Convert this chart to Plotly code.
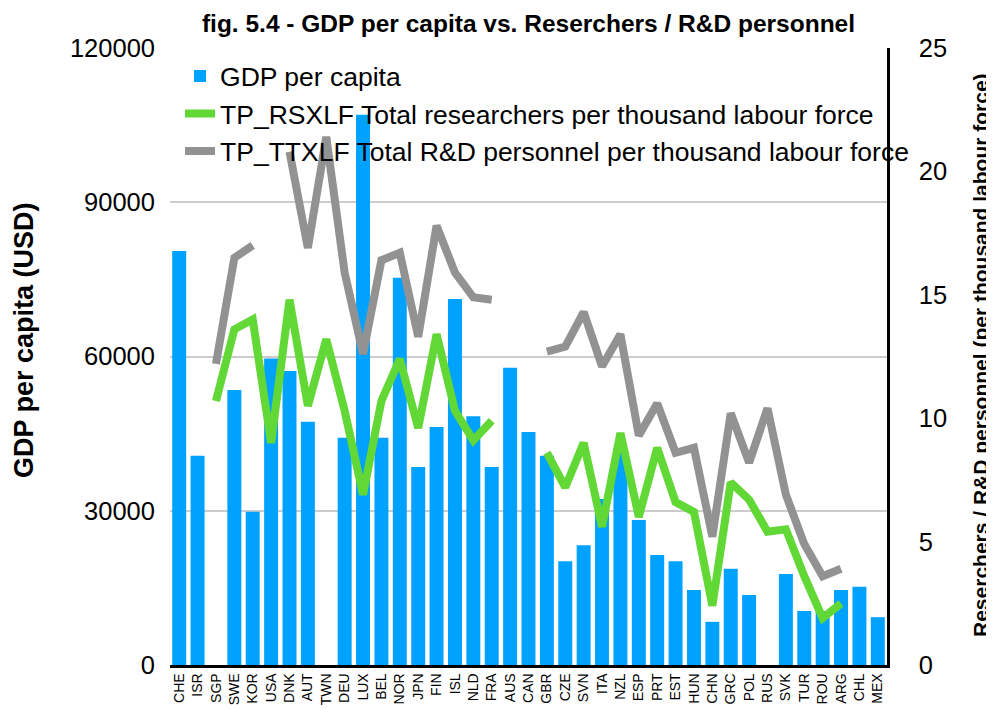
import plotly.graph_objects as go

countries = ["CHE", "ISR", "SGP", "SWE", "KOR", "USA", "DNK", "AUT", "TWN", "DEU",
             "LUX", "BEL", "NOR", "JPN", "FIN", "ISL", "NLD", "FRA", "AUS", "CAN",
             "GBR", "CZE", "SVN", "ITA", "NZL", "ESP", "PRT", "EST", "HUN", "CHN",
             "GRC", "POL", "RUS", "SVK", "TUR", "ROU", "ARG", "CHL", "MEX"]

gdp_per_capita = [80500, 40700, None, 53500, 29800, 59600, 57200, 47300, None, 44200,
                  107000, 44200, 75300, 38500, 46300, 71200, 48400, 38500, 57800, 45300,
                  40700, 20200, 23300, 32300, 42000, 28200, 21400, 20200, 14600, 8400,
                  18700, 13600, None, 17700, 10500, 10500, 14600, 15200, 9300]

researchers = [None, None, 10.7, 13.6, 14.0, 9.0, 14.8, 10.5, 13.2, 10.3,
               6.9, 10.7, 12.4, 9.6, 13.4, 10.3, 9.1, 9.9, None, None,
               8.6, 7.2, 9.0, 5.6, 9.4, 6.0, 8.8, 6.6, 6.2, 2.4,
               7.4, 6.7, 5.4, 5.5, 3.6, 1.9, 2.5, None, None]

rd_personnel = [None, None, 12.2, 16.5, 17.0, None, 20.8, 16.9, 21.4, 15.9,
                12.6, 16.4, 16.7, 13.3, 17.8, 15.9, 14.9, 14.8, None, None,
                12.7, 12.9, 14.3, 12.1, 13.4, 9.3, 10.6, 8.6, 8.8, 5.2,
                10.2, 8.2, 10.4, 6.9, 4.9, 3.6, 3.9, None, None]

left_ticks = [0, 30000, 60000, 90000, 120000]
right_ticks = [0, 5, 10, 15, 20, 25]

FONT = "Liberation Sans, Arial, Helvetica, sans-serif"

# the page body adds an 8px offset; size the figure so it fills the 994x709 window
OFF = 8
W, H = 994 - OFF, 709 - OFF
L, R, T, B = 170 - OFF, 994 - 887, 48 - OFF, 709 - 665

fig = go.Figure()
fig.add_trace(go.Bar(x=countries, y=gdp_per_capita, name="GDP per capita",
                     marker=dict(color="#00A2FF", line=dict(width=0)), yaxis="y"))
fig.add_trace(go.Scatter(x=countries, y=researchers, mode="lines",
                         name="TP_RSXLF Total researchers per thousand labour force",
                         line=dict(color="#61D836", width=8), connectgaps=False, yaxis="y2"))
fig.add_trace(go.Scatter(x=countries, y=rd_personnel, mode="lines",
                         name="TP_TTXLF Total R&D personnel per thousand labour force",
                         line=dict(color="#929292", width=8), connectgaps=False, yaxis="y2"))

fig.update_layout(
    width=W, height=H,
    paper_bgcolor="white", plot_bgcolor="white",
    margin=dict(l=L, r=R, t=T, b=B, autoexpand=False),
    font=dict(family=FONT, color="black"),
    bargap=0.24,
    title=dict(text="<b>fig. 5.4 - GDP per capita vs. Reserchers / R&D personnel</b>",
               x=0.5, xref="paper", xanchor="center",
               y=1 - (23 - OFF) / H, yref="container", yanchor="middle",
               font=dict(size=24.5, family=FONT, color="black")),
    xaxis=dict(type="category", tickangle=-90, tickfont=dict(size=14),
               showline=True, linecolor="black", linewidth=2.5,
               showgrid=False, ticks="", automargin=False),
    yaxis=dict(range=[0, 120000], tickvals=left_ticks, tickformat="d",
               tickfont=dict(size=25.5), showgrid=True, gridcolor="#cccccc",
               gridwidth=1.5, zeroline=False, showline=False, ticks="",
               ticklabelstandoff=14, automargin=False),
    yaxis2=dict(range=[0, 25], tickvals=right_ticks, tickformat="d",
                overlaying="y", side="right",
                tickfont=dict(size=25.5), showgrid=False, zeroline=False,
                showline=True, linecolor="black", linewidth=2.5, ticks="",
                ticklabelstandoff=24, automargin=False),
    legend=dict(x=0.014, y=0.993, xanchor="left", yanchor="top",
                bgcolor="rgba(0,0,0,0)", font=dict(size=26.5, color="black"),
                itemwidth=30, tracegroupgap=0),
)

# axis titles placed at pixel positions of the window, converted to paper coordinates
pw = W - L - R
ph = H - T - B
def to_paper(px, py):
    return (px - OFF - L) / pw, (H - B - (py - OFF)) / ph

ax, ay = to_paper(24, 340)
bx, by = to_paper(980, 355)
fig.add_annotation(text="<b>GDP per capita (USD)</b>", textangle=-90,
                   x=ax, y=ay, xref="paper", yref="paper", showarrow=False,
                   xanchor="center", yanchor="middle",
                   font=dict(size=27, family=FONT, color="black"))
fig.add_annotation(text="<b>Reserchers / R&D personnel (per thousand labour force)</b>",
                   textangle=-90, x=bx, y=by, xref="paper", yref="paper", showarrow=False,
                   xanchor="center", yanchor="middle",
                   font=dict(size=21, family=FONT, color="black"))

fig.write_html("out.html")
